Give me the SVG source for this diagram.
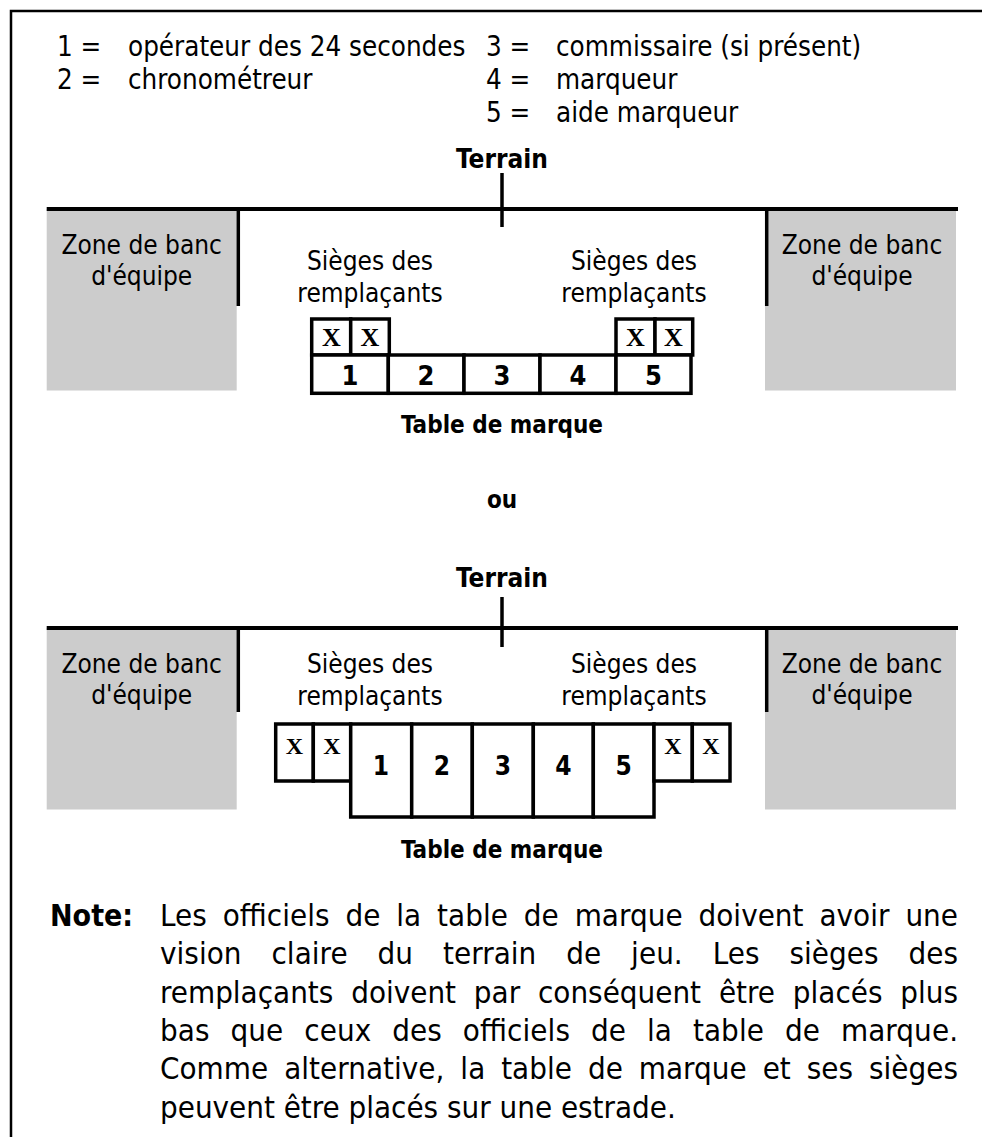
<svg xmlns="http://www.w3.org/2000/svg" width="982" height="1137" viewBox="0 0 982 1137">
<style>
  text { font-family: "DejaVu Sans Condensed", "DejaVu Sans", sans-serif; fill: #000; }
  .lg { font-size: 27.5px; }
  .lab { font-size: 26px; text-anchor: middle; }
  .b { font-weight: bold; font-size: 24px; text-anchor: middle; }
  .t { font-weight: bold; font-size: 26px; text-anchor: middle; }
  .num { font-weight: bold; font-size: 27px; text-anchor: middle; }
  .num2 { font-weight: bold; font-size: 26px; text-anchor: middle; }
  .x { font-family: "Liberation Serif", serif; font-weight: bold; font-size: 26px; text-anchor: middle; }
  .x2 { font-family: "Liberation Serif", serif; font-weight: bold; font-size: 24px; text-anchor: middle; }
  .zone { fill: #cccccc; stroke: none; }
  .cell { fill: #fff; stroke: #000; stroke-width: 3.5; }
  .ln { stroke: #000; fill: none; }
  .note { font-size: 31px; }
  .noteb { font-size: 30px; font-weight: bold; }
</style>

<!-- outer frame -->
<path class="ln" d="M982 11 H11 V1137" stroke-width="2.5"/>

<g id="legend">
  <text class="lg" x="57" y="56">1 =</text>
  <text class="lg" x="128" y="56">opérateur des 24 secondes</text>
  <text class="lg" x="57" y="89">2 =</text>
  <text class="lg" x="128" y="89">chronométreur</text>
  <text class="lg" x="486" y="56">3 =</text>
  <text class="lg" x="556" y="56">commissaire (si présent)</text>
  <text class="lg" x="486" y="89">4 =</text>
  <text class="lg" x="556" y="89">marqueur</text>
  <text class="lg" x="486" y="122">5 =</text>
  <text class="lg" x="556" y="122">aide marqueur</text>
</g>

<!-- ===== Diagram 1 ===== -->
<g id="d1-terrain"><text class="t" x="502" y="168">Terrain</text></g>
<g id="d1-zone-left">
  <rect class="zone" x="46.7" y="209" width="190" height="181.5"/>
  <text class="lab" x="141.7" y="254">Zone de banc</text>
  <text class="lab" x="141.7" y="285">d'équipe</text>
</g>
<g id="d1-zone-right">
  <rect class="zone" x="765" y="209" width="191" height="181.5"/>
  <text class="lab" x="862" y="254">Zone de banc</text>
  <text class="lab" x="862" y="285">d'équipe</text>
</g>
<g id="d1-subs-left">
  <text class="lab" x="370" y="270">Sièges des</text>
  <text class="lab" x="370" y="302">remplaçants</text>
</g>
<g id="d1-subs-right">
  <text class="lab" x="634" y="270">Sièges des</text>
  <text class="lab" x="634" y="302">remplaçants</text>
</g>
<g id="d1-seats-left">
  <rect class="cell" x="311.7" y="319" width="39" height="36"/>
  <rect class="cell" x="350.7" y="319" width="38.6" height="36"/>
  <text class="x" x="331.5" y="346">X</text>
  <text class="x" x="370" y="346">X</text>
</g>
<g id="d1-seats-right">
  <rect class="cell" x="616" y="319" width="39" height="36"/>
  <rect class="cell" x="655" y="319" width="37.7" height="36"/>
  <text class="x" x="635.5" y="346">X</text>
  <text class="x" x="673.5" y="346">X</text>
</g>
<g id="d1-table">
  <rect class="cell" x="311.7" y="355" width="76.6" height="38.3"/>
  <rect class="cell" x="388.3" y="355" width="75.7" height="38.3"/>
  <rect class="cell" x="464" y="355" width="76" height="38.3"/>
  <rect class="cell" x="540" y="355" width="76" height="38.3"/>
  <rect class="cell" x="616" y="355" width="75" height="38.3"/>
  <text class="num" x="350" y="385">1</text>
  <text class="num" x="426" y="385">2</text>
  <text class="num" x="502" y="385">3</text>
  <text class="num" x="578" y="385">4</text>
  <text class="num" x="653.5" y="385">5</text>
</g>
<g id="d1-table-label"><text class="b" x="502" y="433">Table de marque</text></g>

<g id="ou"><text class="b" x="502" y="508">ou</text></g>

<!-- ===== Diagram 2 ===== -->
<g id="d2-terrain"><text class="t" x="502" y="587">Terrain</text></g>
<g id="d2-zone-left">
  <rect class="zone" x="46.7" y="628" width="190" height="181.5"/>
  <text class="lab" x="141.7" y="673">Zone de banc</text>
  <text class="lab" x="141.7" y="704">d'équipe</text>
</g>
<g id="d2-zone-right">
  <rect class="zone" x="765" y="628" width="191" height="181.5"/>
  <text class="lab" x="862" y="673">Zone de banc</text>
  <text class="lab" x="862" y="704">d'équipe</text>
</g>
<g id="d2-subs-left">
  <text class="lab" x="370" y="673">Sièges des</text>
  <text class="lab" x="370" y="705">remplaçants</text>
</g>
<g id="d2-subs-right">
  <text class="lab" x="634" y="673">Sièges des</text>
  <text class="lab" x="634" y="705">remplaçants</text>
</g>
<g id="d2-seats-left">
  <rect class="cell" x="275.7" y="724" width="37.6" height="57"/>
  <rect class="cell" x="313.3" y="724" width="37.4" height="57"/>
  <text class="x2" x="294.5" y="754">X</text>
  <text class="x2" x="332" y="754">X</text>
</g>
<g id="d2-table">
  <rect class="cell" x="350.7" y="724" width="61" height="93"/>
  <rect class="cell" x="411.7" y="724" width="60.6" height="93"/>
  <rect class="cell" x="472.3" y="724" width="61" height="93"/>
  <rect class="cell" x="533.3" y="724" width="60" height="93"/>
  <rect class="cell" x="593.3" y="724" width="60.7" height="93"/>
  <text class="num2" x="381" y="775">1</text>
  <text class="num2" x="442" y="775">2</text>
  <text class="num2" x="503" y="775">3</text>
  <text class="num2" x="563.3" y="775">4</text>
  <text class="num2" x="623.6" y="775">5</text>
</g>
<g id="d2-seats-right">
  <rect class="cell" x="654" y="724" width="38.3" height="57"/>
  <rect class="cell" x="692.3" y="724" width="37.7" height="57"/>
  <text class="x2" x="673" y="754">X</text>
  <text class="x2" x="711" y="754">X</text>
</g>
<g id="d2-table-label"><text class="b" x="502" y="858">Table de marque</text></g>

<!-- connectors / court lines -->
<g id="connectors" class="ln" stroke="#000">
  <line x1="46.7" y1="209" x2="958" y2="209" stroke-width="4"/>
  <line x1="502" y1="173" x2="502" y2="227" stroke-width="3.5"/>
  <line x1="238.3" y1="209" x2="238.3" y2="306" stroke-width="3.5"/>
  <line x1="766.7" y1="209" x2="766.7" y2="306" stroke-width="3.5"/>
  <line x1="46.7" y1="628" x2="958" y2="628" stroke-width="4"/>
  <line x1="502" y1="597" x2="502" y2="647" stroke-width="3.5"/>
  <line x1="238.3" y1="628" x2="238.3" y2="712" stroke-width="3.5"/>
  <line x1="766.7" y1="628" x2="766.7" y2="712" stroke-width="3.5"/>
</g>

<g id="note">
  <text class="noteb" x="50" y="926">Note:</text>
  <text class="note" x="160" y="926" word-spacing="7" textLength="798" lengthAdjust="spacing">Les officiels de la table de marque doivent avoir une</text>
  <text class="note" x="160" y="964.3" word-spacing="21" textLength="798" lengthAdjust="spacing">vision claire du terrain de jeu. Les sièges des</text>
  <text class="note" x="160" y="1002.6" word-spacing="9" textLength="798" lengthAdjust="spacing">remplaçants doivent par conséquent être placés plus</text>
  <text class="note" x="160" y="1041" word-spacing="12" textLength="798" lengthAdjust="spacing">bas que ceux des officiels de la table de marque.</text>
  <text class="note" x="160" y="1079.3" word-spacing="7" textLength="798" lengthAdjust="spacing">Comme alternative, la table de marque et ses sièges</text>
  <text class="note" x="160" y="1117.6">peuvent être placés sur une estrade.</text>
</g>
</svg>
